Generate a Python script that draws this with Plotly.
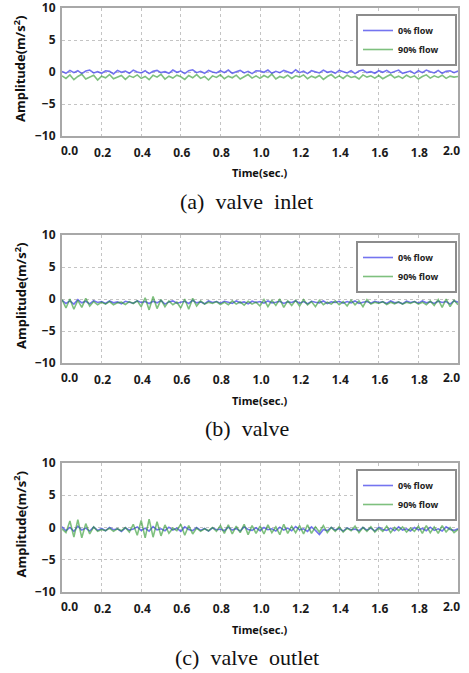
import plotly.graph_objects as go

# ---- data ----
time_step = 0.02
n_samples = 101
time_s = [round(i * time_step, 2) for i in range(n_samples)]

series_names = ["0% flow\u00a0\u00a0\u00a0\u00a0\u00a0", "90% flow\u00a0\u00a0\u00a0\u00a0\u00a0"]
captions = ["(a)\u00a0\u00a0valve\u00a0\u00a0inlet", "(b)\u00a0\u00a0valve", "(c)\u00a0\u00a0valve\u00a0\u00a0outlet"]
x_ticks = [0.0, 0.2, 0.4, 0.6, 0.8, 1.0, 1.2, 1.4, 1.6, 1.8, 2.0]
x_tick_labels = ["0.0", "0.2", "0.4", "0.6", "0.8", "1.0", "1.2", "1.4", "1.6", "1.8", "2.0"]
y_ticks = [-10, -5, 0, 5, 10]

inlet_0 = [
    0.1, -0.2, 0.25, -0.1, 0.2, -0.25, 0.15, 0.3, -0.15, 0.05,
    -0.2, 0.2, 0.1, -0.3, 0.25, -0.05, 0.15, -0.2, 0.3, 0.0,
    -0.15, 0.2, -0.25, 0.1, 0.25, -0.1, 0.05, -0.2, 0.3, -0.05,
    0.15, -0.25, 0.2, 0.35, -0.1, 0.1, -0.2, 0.25, 0.0, -0.15,
    0.2, -0.1, 0.3, -0.2, 0.05, 0.25, -0.15, 0.1, -0.25, 0.2,
    0.15, -0.05, 0.3, -0.2, 0.1, -0.1, 0.25, 0.0, -0.2, 0.35,
    -0.1, 0.15, -0.25, 0.2, 0.05, -0.15, 0.3, -0.05, 0.1, -0.2,
    0.25, 0.0, -0.15, 0.2, -0.25, 0.15, 0.3, -0.1, 0.05, -0.2,
    0.2, -0.05, 0.25, -0.15, 0.1, 0.3, -0.2, 0.0, 0.15, -0.25,
    0.2, -0.1, 0.3, 0.05, -0.15, 0.25, -0.2, 0.1, 0.2, -0.1,
    0.15]
inlet_90 = [
    -0.6, -1.0, -0.45, -1.2, -0.7, -0.35, -1.1, -0.8, -0.5, -1.25,
    -0.65, -0.9, -0.4, -1.05, -0.75, -0.55, -1.15, -0.6, -0.85, -0.45,
    -1.0, -0.7, -1.2, -0.5, -0.8, -0.35, -1.1, -0.65, -0.95, -0.5,
    -0.75, -1.15, -0.55, -0.9, -0.4, -1.0, -0.7, -1.25, -0.6, -0.85,
    -0.45, -1.05, -0.65, -0.9, -0.5, -1.1, -0.75, -0.4, -0.95, -0.6,
    -1.0, -0.55, -0.85, -0.35, -1.1, -0.7, -0.9, -0.5, -1.0, -0.6,
    -0.8, -0.45, -1.05, -0.65, -0.9, -0.55, -1.15, -0.7, -0.4, -0.95,
    -0.6, -1.0, -0.5, -0.85, -0.7, -1.1, -0.45, -0.8, -0.6, -0.95,
    -0.55, -1.05, -0.7, -0.4, -0.9, -0.65, -1.0, -0.5, -0.85, -0.6,
    -1.1, -0.7, -0.45, -0.95, -0.6, -0.85, -0.5, -1.0, -0.65, -0.8,
    -0.7]
valve_0 = [
    -0.2, -0.7, -0.3, -0.8, -0.1, -0.6, -0.35, -0.75, -0.25, -0.55,
    -0.4, -0.7, -0.3, -0.6, -0.45, -0.75, -0.35, -0.5, -0.65, -0.3,
    -0.55, -0.4, -0.7, -0.35, -0.6, -0.25, -0.8, -0.45, -0.3, -0.65,
    -0.5, -0.35, -0.7, -0.2, -0.6, -0.45, -0.75, -0.3, -0.55, -0.4,
    -0.65, -0.35, -0.5, -0.7, -0.3, -0.6, -0.45, -0.75, -0.35, -0.55,
    -0.4, -0.65, -0.3, -0.6, -0.5, -0.35, -0.7, -0.45, -0.55, -0.3,
    -0.65, -0.4, -0.75, -0.35, -0.5, -0.6, -0.3, -0.7, -0.45, -0.55,
    -0.35, -0.65, -0.4, -0.6, -0.3, -0.7, -0.5, -0.4, -0.65, -0.35,
    -0.55, -0.45, -0.7, -0.3, -0.6, -0.5, -0.75, -0.35, -0.55, -0.4,
    -0.65, -0.3, -0.6, -0.45, -0.7, -0.35, -0.55, -0.4, -0.8, -0.3,
    -0.5]
valve_90 = [
    -0.1, -1.4, 0.0, -1.6, -0.2, -1.3, 0.1, -1.1, -0.4, -0.9,
    -0.5, -0.8, -0.4, -0.9, -0.6, -0.5, -0.85, -0.4, -0.7, -0.3,
    -1.2, 0.2, -1.7, 0.4, -1.5, -0.1, -1.2, -0.3, -0.9, -0.5,
    -1.4, 0.0, -1.6, 0.1, -1.1, -0.3, -0.8, -0.5, -0.7, -0.4,
    -0.85, -0.5, -0.9, -0.3, -0.8, -0.45, -0.95, -0.35, -0.8, -0.5,
    -1.1, -0.1, -1.2, -0.2, -1.0, 0.0, -1.3, -0.3, -1.0, -0.2,
    -1.1, -0.1, -0.9, -0.4, -1.2, -0.2, -0.9, -0.5, -0.8, -0.3,
    -0.9, -0.4, -1.1, -0.2, -0.9, -0.3, -1.2, -0.1, -0.8, -0.5,
    -0.7, -0.4, -0.85, -0.5, -0.75, -0.45, -0.8, -0.5, -0.7, -0.4,
    -0.8, -0.5, -0.9, -0.3, -1.0, -0.1, -1.3, 0.0, -1.2, -0.2,
    -0.9]
outlet_0 = [
    0.1, -0.5, 0.0, -0.6, 0.2, -0.4, -0.1, -0.55, 0.05, -0.45,
    -0.15, -0.5, 0.0, -0.35, -0.2, -0.6, -0.05, -0.4, -0.25, 0.1,
    -0.45, -0.1, -0.55, 0.15, -0.35, -0.2, -0.5, 0.05, -0.4, -0.1,
    -0.6, 0.1, -0.3, -0.5, 0.0, -0.45, -0.15, -0.55, -0.05, -0.35,
    -0.25, -0.5, 0.05, -0.4, -0.15, -0.55, 0.1, -0.3, -0.45, -0.05,
    -0.5, 0.0, -0.35, -0.2, -0.55, 0.05, -0.4, -0.1, -0.5, 0.15,
    -0.35, -0.2, -0.6, 0.1, -0.45, -1.1, -0.3, -0.5, 0.0, -0.4,
    -0.15, -0.55, -0.05, -0.35, -0.25, -0.5, 0.0, -0.4, -0.1, -0.55,
    0.05, -0.3, -0.45, -0.1, -0.5, 0.1, -0.4, -0.2, -0.55, 0.0,
    -0.35, -0.15, -0.5, 0.05, -0.45, -0.2, -0.55, 0.1, -0.3, -0.45,
    -0.2]
outlet_90 = [
    -0.2, -0.8, 1.0, -1.5, 1.2, -1.6, 0.6, -1.0, 0.1, -0.6,
    -0.3, -0.5, -0.1, -0.6, -0.2, -0.5, 0.0, -0.7, 0.5, -1.2,
    1.1, -1.6, 1.3, -1.5, 0.9, -1.3, 0.4, -0.9, -0.1, -0.5,
    0.5, -1.2, 0.3, -1.0, -0.1, -0.6, -0.2, -0.5, 0.0, -0.6,
    0.3, -0.9, 0.4, -1.0, 0.2, -0.8, 0.5, -1.1, 0.3, -0.9,
    0.2, -1.0, 0.4, -0.8, 0.1, -1.1, 0.5, -0.9, 0.2, -0.8,
    0.3, -1.0, 0.4, -0.9, 0.1, -0.7, 0.3, -0.8, 0.0, -0.6,
    0.1, -0.7, -0.1, -0.5, 0.2, -0.8, 0.0, -0.6, 0.1, -0.7,
    -0.1, -0.6, 0.2, -0.8, 0.0, -0.5, 0.1, -0.7, -0.1, -0.6,
    0.2, -0.9, 0.3, -0.8, 0.1, -0.9, 0.3, -0.7, 0.0, -0.8,
    -0.3]

panels = [(inlet_0, inlet_90), (valve_0, valve_90), (outlet_0, outlet_90)]

# ---- layout geometry (pixels) ----
W, H = 469, 673
x_left, x_right = 62, 458
panel_px = [(8, 136), (235, 363), (463, 592)]  # top, bottom
colors = ["rgba(70,70,235,0.75)", "rgba(40,150,40,0.6)"]
tick_font = dict(family="Noto Sans", size=12, color="#1a1a1a", weight="bold")

# the two edge tick labels sit inside the frame in the reference:
# they are drawn as axis-anchored annotations instead of axis tick text
x_tick_text = [""] + x_tick_labels[1:-1] + [""]

fig = go.Figure()
annotations = []
layout = dict(
    width=W, height=H, margin=dict(l=0, r=0, t=0, b=0, autoexpand=False),
    paper_bgcolor="white", plot_bgcolor="white", showlegend=True,
)

for k, (s0, s90) in enumerate(panels):
    top, bot = panel_px[k]
    sfx = "" if k == 0 else str(k + 1)
    leg = "legend" if k == 0 else "legend%d" % (k + 1)
    for j, ys in enumerate((s0, s90)):
        fig.add_trace(go.Scatter(
            x=time_s, y=ys, mode="lines", name=series_names[j],
            line=dict(color=colors[j], width=1.6),
            xaxis="x" + sfx, yaxis="y" + sfx, legend=leg,
        ))
    axis_common = dict(
        showline=True, mirror=True, linecolor="#a8a8a8", linewidth=2,
        showgrid=True, gridcolor="#c4c4c4", griddash="dot", gridwidth=1,
        zeroline=False, ticks="outside", tickcolor="rgba(0,0,0,0)",
        automargin=False, tickfont=tick_font,
    )
    layout["xaxis" + sfx] = dict(
        axis_common, domain=[x_left / W, x_right / W], range=[0, 2],
        tickvals=x_ticks, ticktext=x_tick_text, ticklen=5,
        anchor="y" + sfx, ticklabelshift=1,
    )
    layout["yaxis" + sfx] = dict(
        axis_common, domain=[1 - bot / H, 1 - top / H], range=[-10, 10],
        tickvals=y_ticks, ticklen=2, anchor="x" + sfx, ticklabeloverflow="allow",
    )
    layout[leg] = dict(
        x=457 / W, y=1 - (top + 6) / H, xanchor="right", yanchor="top",
        bgcolor="white", bordercolor="#8c8c8c", borderwidth=2,
        font=dict(family="Noto Sans", size=9, color="#222", weight="bold"),
        tracegroupgap=0, itemwidth=30,
    )
    # edge tick labels
    for xv, lab, anc, dx in ((x_ticks[0], x_tick_labels[0], "left", -3),
                             (x_ticks[-1], x_tick_labels[-1], "right", 4)):
        annotations.append(dict(
            text=lab, x=xv, y=-10, xref="x" + sfx, yref="y" + sfx,
            xanchor=anc, yanchor="top", yshift=-4, xshift=dx,
            showarrow=False, font=tick_font,
        ))
    # axis titles & captions
    annotations.append(dict(
        text="Time(sec.)", x=(x_left + x_right) / 2 / W, y=1 - (bot + 37) / H,
        xref="paper", yref="paper", showarrow=False, xanchor="center", yanchor="middle",
        font=dict(family="Noto Sans", size=11, color="#111", weight="bold"),
    ))
    annotations.append(dict(
        text="Amplitude(m/s<sup>2</sup>)", x=20 / W, y=1 - ((top + bot) / 2 - 3) / H,
        xref="paper", yref="paper", showarrow=False, textangle=-90,
        xanchor="center", yanchor="middle",
        font=dict(family="Noto Sans", size=13, color="#111", weight="bold"),
    ))
    annotations.append(dict(
        text=captions[k], x=247 / W, y=1 - (bot + 65) / H,
        xref="paper", yref="paper", showarrow=False, xanchor="center", yanchor="middle",
        font=dict(family="Liberation Serif", size=22, color="#111"),
    ))

layout["annotations"] = annotations
fig.update_layout(**layout)
fig.write_html(
    "out.html",
    config={"displayModeBar": False},
    post_script="document.body.style.margin='0';document.body.style.overflow='hidden';",
)
